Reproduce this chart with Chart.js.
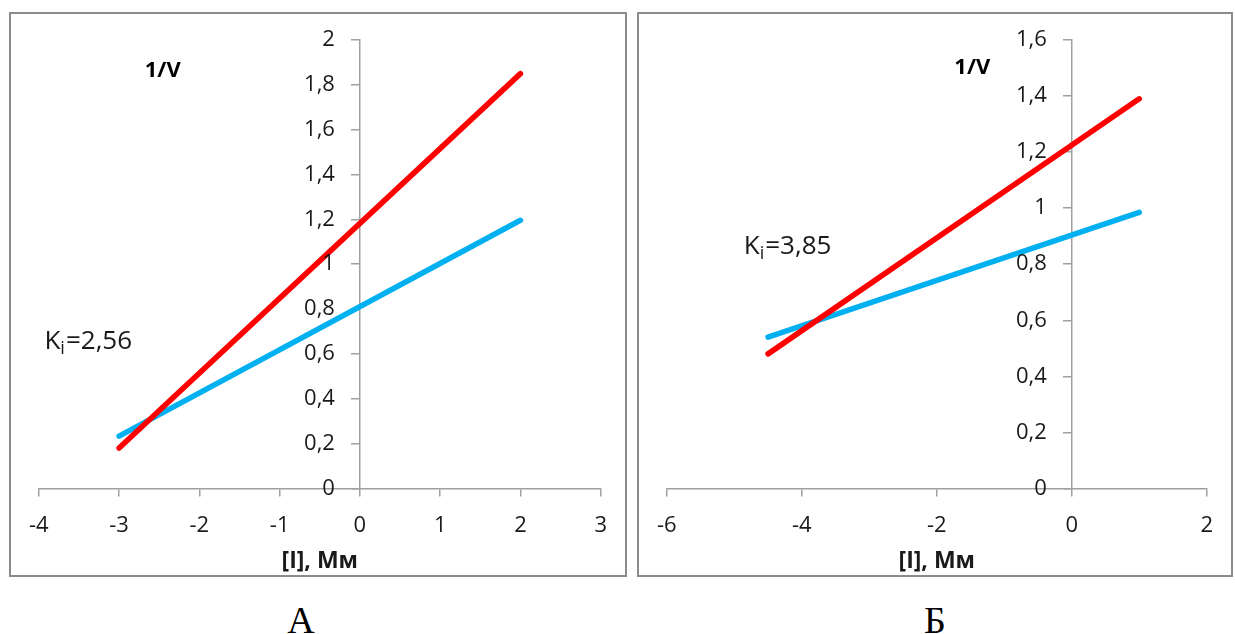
<!DOCTYPE html>
<html>
<head>
<meta charset="utf-8">
<script src="https://cdn.jsdelivr.net/npm/chart.js@4/dist/chart.umd.min.js"></script>
<style>
    body { margin: 0; background: #fff; width: 1235px; height: 634px; position: relative; overflow: hidden; }
    .panel { position: absolute; top: 12px; height: 565px; box-sizing: border-box; border: 2px solid #8c8c8c; background: #fff; }
    #panelA { left: 9px; width: 618px; }
    #panelB { left: 637px; width: 596px; }
    .panel canvas { display: block; }
    .caption { position: absolute; top: 601px; width: 80px; margin-left: -40px; text-align: center;
               font-family: "Liberation Serif", serif; font-size: 38px; line-height: 38px; color: #000; }
</style>
</head>
<body>
<div class="panel" id="panelA"><canvas id="myChart1" width="614" height="561"></canvas></div>
<div class="panel" id="panelB"><canvas id="myChart2" width="592" height="561"></canvas></div>
<div class="caption" style="left:301px">А</div>
<div class="caption" style="left:935px">Б</div>

<script>
// chart A
const xA = [-3, 2];
const redA = [0.18, 1.85];
const blueA = [0.233, 1.196];
const xTicksA = [-4, -3, -2, -1, 0, 1, 2, 3];
const yTicksA = [0, 0.2, 0.4, 0.6, 0.8, 1, 1.2, 1.4, 1.6, 1.8, 2];
const yLabelsA = ['0', '0,2', '0,4', '0,6', '0,8', '1', '1,2', '1,4', '1,6', '1,8', '2'];

// chart Б
const xB = [-4.5, 1];
const redB = [0.48, 1.39];
const blueB = [0.54, 0.985];
const xTicksB = [-6, -4, -2, 0, 2];
const yTicksB = [0, 0.2, 0.4, 0.6, 0.8, 1, 1.2, 1.4, 1.6];
const yLabelsB = ['0', '0,2', '0,4', '0,6', '0,8', '1', '1,2', '1,4', '1,6'];

const RED = '#ff0000';
const BLUE = '#00b0f0';
const AXIS = '#a0a0a0';
const TEXT = '#1a1a1a';
const FONT = '"Open Sans", sans-serif';
const TICK_LEN = 8;

// y tick labels left of the centred axis, plus the 1/V and Ki notes
const notesPlugin = {
    id: 'notes',
    afterDraw(chart, args, opts) {
        const ctx = chart.ctx;
        const xs = chart.scales.x;
        const ys = chart.scales.y;
        ctx.save();
        ctx.fillStyle = TEXT;

        // y tick labels
        ctx.font = '22px ' + FONT;
        ctx.textAlign = 'right';
        ctx.textBaseline = 'middle';
        const ax = xs.getPixelForValue(0) - TICK_LEN - 17;
        opts.yTicks.forEach((v, i) => {
            ctx.fillText(opts.yLabels[i], ax, ys.getPixelForValue(v));
        });

        ctx.fillStyle = '#000';
        ctx.textAlign = 'left';
        ctx.textBaseline = 'alphabetic';
        ctx.font = 'bold 22px ' + FONT;
        ctx.fillText('1/V', xs.getPixelForValue(opts.vAt[0]), ys.getPixelForValue(opts.vAt[1]));

        let px = xs.getPixelForValue(opts.kAt[0]);
        const py = ys.getPixelForValue(opts.kAt[1]);
        ctx.fillStyle = TEXT;
        ctx.font = '26px ' + FONT;
        ctx.fillText('K', px, py);
        px += ctx.measureText('K').width;
        ctx.font = '18px ' + FONT;
        ctx.fillText('i', px, py + 5);
        px += ctx.measureText('i').width + 1;
        ctx.font = '26px ' + FONT;
        ctx.fillText(opts.kText, px, py);
        ctx.restore();
    }
};

function line(xs, ys, color) {
    return {
        data: xs.map((x, i) => ({x: x, y: ys[i]})),
        borderColor: color,
        backgroundColor: color,
        borderWidth: 5.5,
        borderCapStyle: 'round',
        pointRadius: 0,
        fill: false,
        tension: 0
    };
}

function makeChart(id, cfg) {
    const ctx = document.getElementById(id).getContext('2d');
    return new Chart(ctx, {
        type: 'line',
        data: {
            datasets: [line(cfg.x, cfg.red, RED), line(cfg.x, cfg.blue, BLUE)]
        },
        options: {
            responsive: false,
            animation: false,
            layout: { padding: cfg.padding },
            plugins: {
                legend: { display: false },
                tooltip: { enabled: false },
                notes: Object.assign({ yTicks: cfg.yTicks, yLabels: cfg.yLabels }, cfg.notes)
            },
            scales: {
                x: {
                    type: 'linear',
                    min: cfg.xTicks[0],
                    max: cfg.xTicks[cfg.xTicks.length - 1],
                    afterBuildTicks: s => { s.ticks = cfg.xTicks.map(v => ({value: v})); },
                    afterFit: s => { s.height -= 16; },
                    ticks: {
                        color: TEXT,
                        font: { family: FONT, size: 22, lineHeight: 1 },
                        padding: 18,
                        maxRotation: 0,
                        callback: v => String(v)
                    },
                    grid: { drawOnChartArea: false, drawTicks: true, tickLength: TICK_LEN, color: AXIS, lineWidth: 1.5 },
                    border: { color: AXIS, width: 1.5 },
                    title: {
                        display: true,
                        text: '[I], Мм',
                        color: TEXT,
                        font: { family: FONT, size: 23, weight: 'bold', lineHeight: 1.2 },
                        padding: { top: 9, bottom: 0 }
                    }
                },
                y: {
                    type: 'linear',
                    position: { x: 0 },
                    min: 0,
                    max: cfg.yTicks[cfg.yTicks.length - 1],
                    afterBuildTicks: s => { s.ticks = cfg.yTicks.map(v => ({value: v})); },
                    ticks: { display: false },
                    grid: { drawOnChartArea: false, drawTicks: true, tickLength: TICK_LEN, color: AXIS, lineWidth: 1.5 },
                    border: { color: AXIS, width: 1.5 }
                }
            }
        },
        plugins: [notesPlugin]
    });
}

makeChart('myChart1', {
    x: xA, red: redA, blue: blueA,
    xTicks: xTicksA, yTicks: yTicksA, yLabels: yLabelsA,
    padding: { left: 26, right: 22, top: 26, bottom: 0 },
    notes: { vAt: [-2.68, 1.835], kAt: [-3.93, 0.622], kText: '=2,56' }
});

makeChart('myChart2', {
    x: xB, red: redB, blue: blueB,
    xTicks: xTicksB, yTicks: yTicksB, yLabels: yLabelsB,
    padding: { left: 24, right: 11, top: 26, bottom: 0 },
    notes: { vAt: [-1.74, 1.479], kAt: [-4.86, 0.836], kText: '=3,85' }
});
</script>
</body>
</html>
